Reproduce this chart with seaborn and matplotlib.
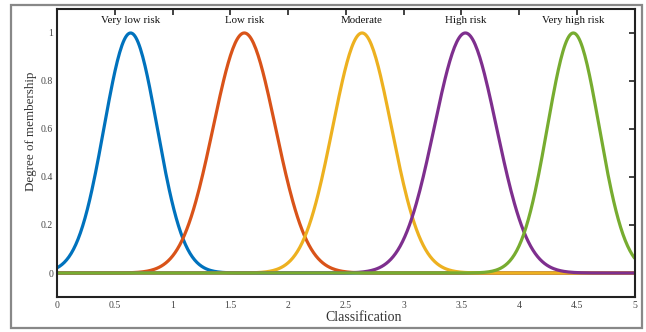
import numpy as np
import pandas as pd
import matplotlib
matplotlib.use("Agg")
import matplotlib.pyplot as plt
import seaborn as sns
from matplotlib.patches import Rectangle

categories = ["Very low risk", "Low risk", "Moderate", "High risk", "Very high risk"]
centers = [0.635, 1.62, 2.64, 3.535, 4.47]
sigmas = [0.23, 0.27, 0.255, 0.27, 0.225]
colors = ["#0072BD", "#D95319", "#EDB120", "#7E2F8E", "#77AC30"]
x_ticks = [0, 0.5, 1, 1.5, 2, 2.5, 3, 3.5, 4, 4.5, 5]
x_tick_labels = ["0", "0.5", "1", "1.5", "2", "2.5", "3", "3.5", "4", "4.5", "5"]
y_ticks = [0, 0.2, 0.4, 0.6, 0.8, 1]
y_tick_labels = ["0", "0.2", "0.4", "0.6", "0.8", "1"]

sns.set_style("white")
plt.rcParams["font.family"] = ["Liberation Serif", "DejaVu Serif"]

xs = np.linspace(0, 5, 501)
frames = []
for name, c, s in zip(categories, centers, sigmas):
    frames.append(pd.DataFrame({"x": xs, "y": np.exp(-(xs - c) ** 2 / (2 * s ** 2)), "cat": name}))
df = pd.concat(frames, ignore_index=True)

fig = plt.figure(figsize=(6.46, 3.32), dpi=100)
ax = fig.add_axes([0.0887, 0.1054, 0.8935, 0.8676])
sns.lineplot(data=df, x="x", y="y", hue="cat", hue_order=categories,
             palette=colors, linewidth=2.3, legend=False, ax=ax)

ax.set_xlim(0, 5)
ax.set_ylim(-0.1, 1.1)
ax.set_xticks(x_ticks)
ax.set_xticklabels(x_tick_labels)
ax.set_yticks(y_ticks)
ax.set_yticklabels(y_tick_labels)
ax.tick_params(direction="in", length=4, width=1.2, top=True, right=True,
               labelsize=7, labelcolor="#444444", color="#222222", pad=3)
for sp in ax.spines.values():
    sp.set_color("#222222")
    sp.set_linewidth(1.5)
ax.set_xlabel("Classification", fontsize=10, color="#333333")
ax.xaxis.set_label_coords(0.53, -0.05)
ax.set_ylabel("Degree of membership", fontsize=9.4, color="#333333")
ax.yaxis.set_label_coords(-0.035, 0.575)

for name, c in zip(categories, centers):
    ax.text(c, 1.05, name, ha="center", va="center", fontsize=7.8, color="#111111")

fig.patches.append(Rectangle((11 / 646, 1 - 328 / 332), (642 - 11) / 646, (328 - 5) / 332,
                             transform=fig.transFigure, fill=False,
                             edgecolor="#888888", linewidth=1.6))

fig.savefig("out.png", dpi=100)
